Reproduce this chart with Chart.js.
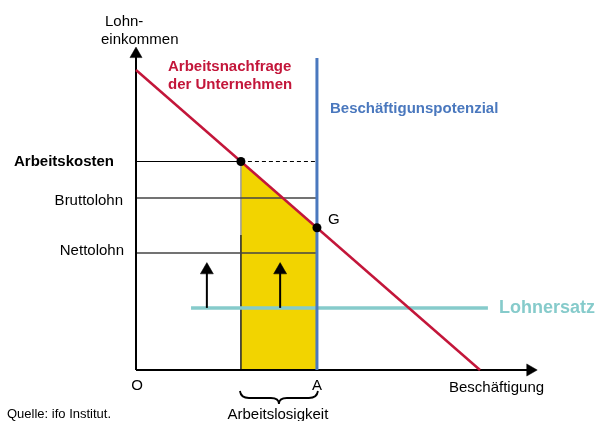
<!DOCTYPE html>
<html><head><meta charset="utf-8">
<script src="https://cdn.jsdelivr.net/npm/chart.js@4.4.1/dist/chart.umd.min.js"></script>
<style>html,body{margin:0;padding:0;background:#fff}#wrap{width:595px;height:421px;position:relative}</style>
</head><body><div id="wrap"><canvas id="c" width="595" height="421"></canvas></div>
<script>
// Conceptual diagram values (arbitrary units: employment on x, wage on y)
const demandLine = [{x:0,y:100},{x:100,y:0}];        // Arbeitsnachfrage der Unternehmen
const employmentA = 52.6;                              // Beschäftigungspotenzial (A)
const potentialTop = 104;
const employmentActual = 30.5;                         // actual employment at labour cost
const labourCost = 69.5;                               // Arbeitskosten
const grossWage = 57.3;                                // Bruttolohn
const netWage = 39;                                    // Nettolohn
const wageReplacement = 20.7;                          // Lohnersatz
const replacementRange = [16, 102.3];
const arrowXs = [20.6, 41.9];
const arrowHead = 33.3;
const gPoint = {x:employmentA, y:100-employmentA};
const axisTopY = 105.3, axisRightX = 114.6;

const FONT = '"Liberation Sans", Arial, sans-serif';
const red = '#C3163A', blue = '#4A78BE', teal = '#86CBCB', yellow = '#F2D400';

function seg(a,b,color,width,extra){return Object.assign({data:[a,b],borderColor:color,borderWidth:width,pointRadius:0,showLine:true,fill:false,tension:0},extra||{});}

const datasets = [];
datasets.push({data:[{x:employmentActual,y:labourCost},gPoint],pointRadius:4.5,pointBackgroundColor:'#000',pointBorderWidth:0,showLine:false,order:0});
datasets.push({data:[{x:0,y:axisTopY},{x:axisRightX,y:0},...arrowXs.map(x=>({x,y:arrowHead}))],
  pointStyle:'triangle',pointRadius:[7,7,7.5,7.5],rotation:[0,90,0,0],pointBackgroundColor:'#000',pointBorderColor:'#000',pointBorderWidth:0.5,showLine:false,order:1});
datasets.push(seg(demandLine[0],demandLine[1],red,2.5,{order:2}));
datasets.push(seg({x:employmentA,y:0},{x:employmentA,y:potentialTop},blue,3,{order:3}));
datasets.push(seg({x:0,y:0},{x:0,y:axisTopY},'#000',2,{order:4}));
datasets.push(seg({x:0,y:0},{x:axisRightX,y:0},'#000',2,{order:4}));
arrowXs.forEach(x=>datasets.push(seg({x,y:wageReplacement},{x,y:arrowHead},'#000',2,{order:5})));
datasets.push(seg({x:replacementRange[0],y:wageReplacement},{x:replacementRange[1],y:wageReplacement},teal,3.5,{order:6}));
datasets.push(seg({x:0,y:labourCost},{x:employmentActual,y:labourCost},'#000',1.2,{order:7}));
datasets.push(seg({x:employmentActual,y:labourCost},{x:employmentA,y:labourCost},'#000',1.2,{order:7,borderDash:[4,3]}));
datasets.push(seg({x:0,y:grossWage},{x:employmentA,y:grossWage},'#444',1.5,{order:7}));
datasets.push(seg({x:0,y:netWage},{x:employmentA,y:netWage},'#444',1.5,{order:7}));
datasets.push(seg({x:employmentActual,y:0},{x:employmentActual,y:45},'#222',1.5,{order:8}));
datasets.push(seg({x:employmentActual,y:45},{x:employmentActual,y:labourCost},'#999',1.5,{order:8}));
datasets.push({data:[{x:employmentActual,y:labourCost},gPoint],showLine:true,fill:'origin',backgroundColor:yellow,borderWidth:0,pointRadius:0,order:20});

const labels = {
  id:'labels',
  afterDatasetsDraw(chart){
    const ctx=chart.ctx, xs=chart.scales.x;
    ctx.save();
    ctx.textBaseline='middle';
    function t(s,x,y,opt){ctx.font=(opt.bold?'bold ':'')+opt.size+'px '+FONT;ctx.fillStyle=opt.color||'#000';ctx.textAlign=opt.align||'left';ctx.fillText(s,x,y+1.5);}
    t('Lohn-',105,20,{size:15});
    t('einkommen',101,38,{size:15});
    t('Arbeitsnachfrage',168,65,{size:15,bold:true,color:red});
    t('der Unternehmen',168,83,{size:15,bold:true,color:red});
    t('Beschäftigunspotenzial',330,107,{size:15,bold:true,color:blue});
    t('Arbeitskosten',14,160,{size:15,bold:true});
    t('Bruttolohn',123,199,{size:15,align:'right'});
    t('Nettolohn',124,249,{size:15,align:'right'});
    t('G',328,218,{size:15});
    t('Lohnersatz',499,307,{size:18,bold:true,color:teal});
    t('O',137,384,{size:15,align:'center'});
    t('A',xs.getPixelForValue(employmentA),384,{size:15,align:'center'});
    t('Beschäftigung',449,386,{size:15});
    const x1=xs.getPixelForValue(employmentActual), x2=xs.getPixelForValue(employmentA);
    t('Arbeitslosigkeit',(x1+x2)/2-1,413,{size:15,align:'center'});
    t('Quelle: ifo Institut.',7,413,{size:13});
    const m=(x1+x2)/2, yTop=391, yMid=398, yTip=404, r=8;
    ctx.strokeStyle='#000';ctx.lineWidth=1.8;ctx.beginPath();
    ctx.moveTo(x1-1,yTop);ctx.quadraticCurveTo(x1,yMid,x1+r,yMid);ctx.lineTo(m-r,yMid);ctx.quadraticCurveTo(m,yMid,m,yTip);
    ctx.quadraticCurveTo(m,yMid,m+r,yMid);ctx.lineTo(x2-r,yMid);ctx.quadraticCurveTo(x2,yMid,x2+1,yTop);
    ctx.stroke();
    ctx.restore();
  }
};

new Chart(document.getElementById('c'),{
  type:'scatter',
  data:{datasets},
  options:{
    responsive:false,animation:false,
    layout:{padding:0,autoPadding:false},
    plugins:{legend:{display:false},tooltip:{enabled:false}},
    scales:{
      x:{type:'linear',display:false,min:-136/3.44,max:(595-136)/3.44},
      y:{type:'linear',display:false,min:-(421-370)/3,max:370/3}
    }
  },
  plugins:[labels]
});
</script></body></html>
